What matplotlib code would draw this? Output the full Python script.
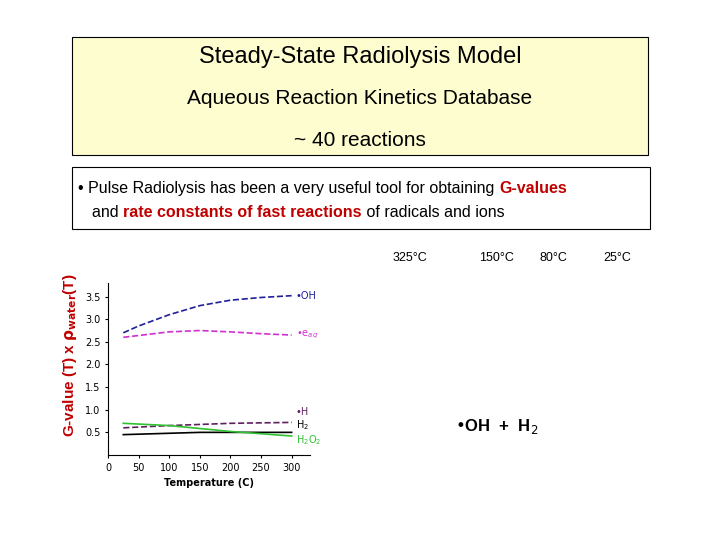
import matplotlib
matplotlib.use("Agg")
import matplotlib.pyplot as plt
from matplotlib.patches import Rectangle

# curve data
temp_oh = [25, 50, 100, 150, 200, 250, 300]
g_oh = [2.70, 2.85, 3.10, 3.30, 3.42, 3.48, 3.52]
temp_eaq = [25, 100, 150, 200, 250, 300]
g_eaq = [2.60, 2.72, 2.75, 2.72, 2.68, 2.65]
temp_h = [25, 100, 200, 300]
g_h = [0.60, 0.65, 0.70, 0.72]
temp_h2 = [25, 150, 300]
g_h2 = [0.45, 0.50, 0.50]
temp_h2o2 = [25, 100, 200, 300]
g_h2o2 = [0.70, 0.65, 0.52, 0.42]

temp_labels = ["325\u00b0C", "150\u00b0C", "80\u00b0C", "25\u00b0C"]
temp_label_x = [410, 497, 553, 617]

W, H = 720, 540
fig = plt.figure(figsize=(7.2, 5.4), dpi=100)

def fx(px): return px / W
def fy(py): return 1 - py / H

# header box
fig.patches.append(Rectangle((fx(72), fy(155)), fx(576), (155 - 37) / H,
                             transform=fig.transFigure, facecolor="#fdfdd0",
                             edgecolor="black", linewidth=0.8))
fig.text(fx(360), fy(57), "Steady-State Radiolysis Model", ha="center", va="center",
         fontsize=17, family="Liberation Sans")
fig.text(fx(360), fy(99), "Aqueous Reaction Kinetics Database", ha="center", va="center",
         fontsize=15, family="Liberation Sans")
fig.text(fx(360), fy(140), "~ 40 reactions", ha="center", va="center",
         fontsize=15, family="Liberation Sans")

# bullet box
fig.patches.append(Rectangle((fx(72), fy(229)), fx(578), (229 - 167) / H,
                             transform=fig.transFigure, facecolor="white",
                             edgecolor="black", linewidth=0.8))
red = "#c00000"
line1 = [("\u2022 Pulse Radiolysis has been a very useful tool for obtaining ", "black", "normal"),
         ("G-values", red, "bold")]
line2 = [("and ", "black", "normal"), ("rate constants of fast reactions", red, "bold"),
         (" of radicals and ions", "black", "normal")]
fig.canvas.draw()
rend = fig.canvas.get_renderer()
for parts, x0, y0 in [(line1, 78, 193), (line2, 92, 217)]:
    x = fx(x0)
    for s, c, w in parts:
        t = fig.text(x, fy(y0), s, color=c, fontweight=w, fontsize=11.5,
                     va="baseline", family="Liberation Sans")
        bb = t.get_window_extent(rend)
        x += bb.width / W

for lab, px in zip(temp_labels, temp_label_x):
    fig.text(fx(px), fy(258), lab, ha="center", va="center", fontsize=9,
             family="Liberation Sans")

fig.text(fx(497), fy(427), "\u2022OH  +  H$_2$", ha="center", va="center",
         fontsize=12, fontweight="bold", family="Liberation Sans")

fig.text(fx(70), fy(355), r"G-value (T) x $\mathbf{\rho_{water}}$(T)", rotation=90,
         ha="center", va="center", color=red, fontsize=11, fontweight="bold",
         family="Liberation Sans")

# inset chart
ax = fig.add_axes([fx(108), fy(455), fx(202), (455 - 283) / H])
ax.plot(temp_oh, g_oh, "--", color="#20209a", lw=1.2)
ax.plot(temp_eaq, g_eaq, "--", color="#d030d0", lw=1.2)
ax.plot(temp_h, g_h, "--", color="#602060", lw=1.2)
ax.plot(temp_h2, g_h2, "-", color="black", lw=1.2)
ax.plot(temp_h2o2, g_h2o2, "-", color="#30c030", lw=1.2)
ax.text(307, 3.52, "\u2022OH", color="#20209a", fontsize=7, va="center")
ax.text(307, 2.65, "\u2022e$_{aq}$", color="#d030d0", fontsize=7, va="center")
ax.text(307, 0.95, "\u2022H", color="#602060", fontsize=7, va="center")
ax.text(307, 0.66, "H$_2$", color="black", fontsize=7, va="center")
ax.text(307, 0.32, "H$_2$O$_2$", color="#30c030", fontsize=7, va="center")
ax.set_xlim(0, 330)
ax.set_ylim(0, 3.8)
ax.set_xticks([0, 50, 100, 150, 200, 250, 300])
ax.set_yticks([0.5, 1.0, 1.5, 2.0, 2.5, 3.0, 3.5])
ax.tick_params(labelsize=7, length=2)
ax.set_xlabel("Temperature (C)", fontsize=7, fontweight="bold")
for s in ["top", "right"]:
    ax.spines[s].set_visible(False)

fig.savefig("out.png", dpi=100)
